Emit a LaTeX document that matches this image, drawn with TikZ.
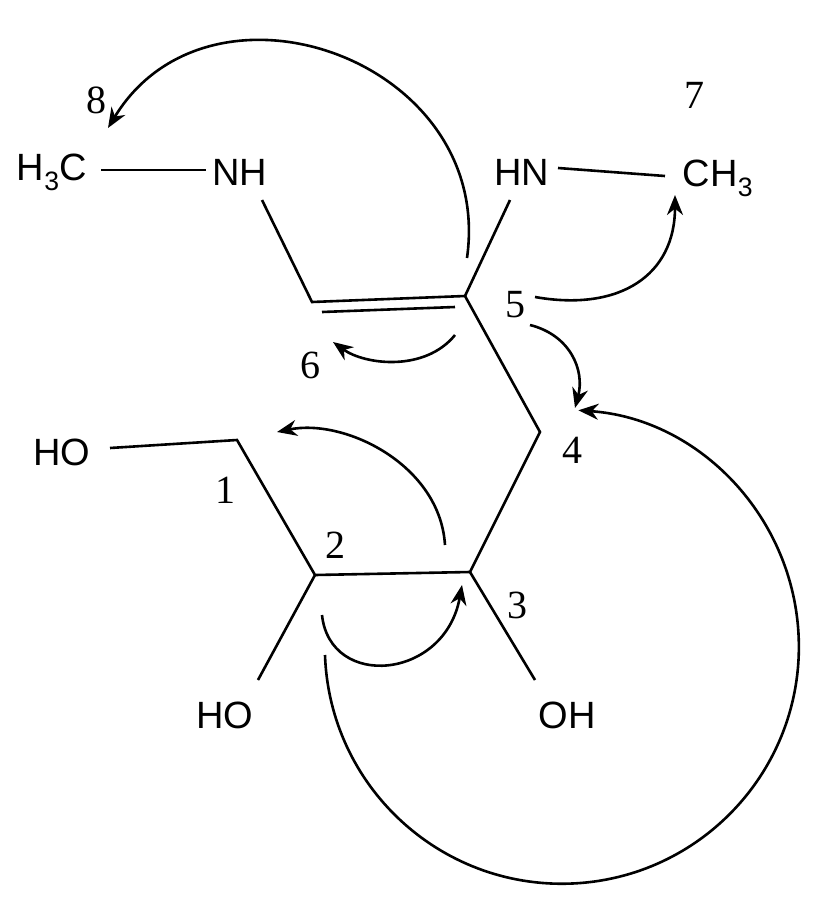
\documentclass[tikz,border=0pt]{standalone}
\usepackage{fontspec}
\setmainfont{Liberation Serif}
\newfontfamily\atomfont{Liberation Sans}
\usetikzlibrary{arrows.meta}
\tikzset{
 bond/.style={line width=2.6pt},
 atom/.style={font=\atomfont\fontsize{38}{40}\selectfont, inner sep=0pt},
 num/.style={font=\fontsize{40}{42}\selectfont, inner sep=0pt},
 push/.style={line width=2.6pt,-{Stealth[length=20pt,width=16pt]}}
}
\begin{document}
\begin{tikzpicture}[x=1pt,y=-1pt]
\useasboundingbox (0,0) rectangle (827,911);
\node[atom] (h3c) at (52,172) {H\textsubscript{3}C};
\node[atom] (nh1) at (240,172) {NH};
\node[atom] (nh2) at (522,172) {HN};
\node[atom] (ch3) at (718,178) {CH\textsubscript{3}};
\node[atom] (ho1) at (62,452) {HO};
\node[atom] (ho2) at (225,715) {HO};
\node[atom] (oh3) at (567,715) {OH};
\coordinate (c6) at (312,302);
\coordinate (c5) at (465,296);
\coordinate (c4) at (540,432);
\coordinate (c3) at (470,572);
\coordinate (c2) at (315,575);
\coordinate (c1) at (237,440);
\draw[bond] (101,170) -- (206,170);
\draw[bond] (262,200) -- (c6) -- (c5) -- (c4) -- (c3) -- (c2) -- (c1) -- (110,448);
\draw[bond] (322,312) -- (455,307);
\draw[bond] (c5) -- (510,200);
\draw[bond] (558,168) -- (665,176);
\draw[bond] (c2) -- (258,680);
\draw[bond] (c3) -- (535,680);
\node[num] (n8) at (96,100) {8};
\node[num] (n7) at (694,95) {7};
\node[num] (n5) at (515,305) {5};
\node[num] (n6) at (310,365) {6};
\node[num] (n4) at (572,450) {4};
\node[num] (n1) at (225,490) {1};
\node[num] (n2) at (335,545) {2};
\node[num] (n3) at (517,605) {3};
\coordinate (a1s) at (467,258); \coordinate (a1e) at (108,128);
\draw[push] (a1s) .. controls (495,60) and (210,-40) .. (a1e);
\coordinate (a2s) at (535,297); \coordinate (a2e) at (675,195);
\draw[push] (a2s) .. controls (620,312) and (675,275) .. (a2e);
\coordinate (a3s) at (530,325); \coordinate (a3e) at (575,408);
\draw[push] (a3s) .. controls (570,335) and (585,370) .. (a3e);
\coordinate (a4s) at (455,335); \coordinate (a4e) at (333,342);
\draw[push] (a4s) .. controls (425,372) and (365,365) .. (a4e);
\coordinate (a5s) at (445,545); \coordinate (a5e) at (277,432);
\draw[push] (a5s) .. controls (440,465) and (345,418) .. (a5e);
\coordinate (a6s) at (322,615); \coordinate (a6e) at (462,585);
\draw[push] (a6s) .. controls (330,690) and (445,680) .. (a6e);
\coordinate (a7s) at (325,655);
\draw[push] (a7s) arc[start angle=178, end angle=-86, radius=237];
\end{tikzpicture}
\end{document}
